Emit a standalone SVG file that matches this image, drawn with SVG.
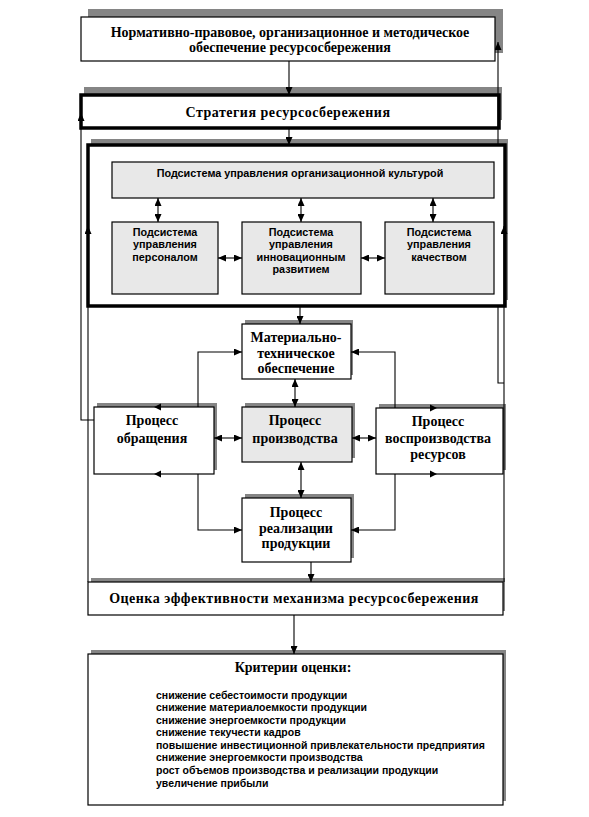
<svg xmlns="http://www.w3.org/2000/svg" width="589" height="817" viewBox="0 0 589 817">
<style>
.sh{fill:#858585;stroke:none}
.bx{fill:#fff;stroke:#000;stroke-width:1.2}
.bxt{fill:#fff;stroke:#000;stroke-width:3.5}
.gr{fill:#e8e8e8;stroke:#000;stroke-width:1.2}
.c{fill:none;stroke:#000;stroke-width:1.1}
.ts{font-family:"Liberation Serif","Times New Roman",serif;font-weight:bold;font-size:14px;fill:#000;text-anchor:middle}
.ta{font-family:"Liberation Sans",Arial,sans-serif;font-weight:bold;font-size:10.8px;fill:#000;text-anchor:middle}
.tl{font-family:"Liberation Sans",Arial,sans-serif;font-weight:bold;font-size:10.5px;fill:#000}
</style>
<defs>
<marker id="ah" markerUnits="userSpaceOnUse" markerWidth="8" markerHeight="7" refX="8" refY="3.5" orient="auto-start-reverse">
<path d="M0,0 L8,3.5 L0,7 z" fill="#000"/>
</marker>
</defs>
<g id="n-normative">
<rect class="sh" x="88" y="9" width="415" height="44"/>
<rect class="bx" x="81" y="17" width="414" height="44"/>
<text class="ts" x="290" y="37" font-size="14.3">Нормативно-правовое, организационное и методическое</text>
<text class="ts" x="290" y="52" font-size="14.3">обеспечение ресурсосбережения</text>
</g>
<g id="n-strategy">
<rect class="sh" x="84" y="87" width="418" height="33"/>
<rect class="bxt" x="81" y="95" width="418" height="33" stroke-width="3"/>
<text class="ts" x="288" y="117" letter-spacing="0.5">Стратегия ресурсосбережения</text>
</g>
<g id="n-subsystems">
<rect class="sh" x="91" y="139" width="417" height="161"/>
<rect class="bxt" x="88" y="145" width="417" height="161"/>
</g>
<g id="n-culture">
<rect class="gr" x="112" y="162" width="382" height="36"/>
<text class="ta" x="300" y="177">Подсистема управления организационной культурой</text>
</g>
<g id="n-personnel">
<rect class="gr" x="112" y="222" width="106" height="72"/>
<text class="ta" x="165" y="236">Подсистема</text>
<text class="ta" x="165" y="248">управления</text>
<text class="ta" x="165" y="261">персоналом</text>
</g>
<g id="n-innovation">
<rect class="gr" x="242" y="222" width="119" height="72"/>
<text class="ta" x="301" y="236">Подсистема</text>
<text class="ta" x="301" y="248">управления</text>
<text class="ta" x="301" y="261">инновационным</text>
<text class="ta" x="301" y="273">развитием</text>
</g>
<g id="n-quality">
<rect class="gr" x="385" y="222" width="109" height="72"/>
<text class="ta" x="439" y="236">Подсистема</text>
<text class="ta" x="439" y="248">управления</text>
<text class="ta" x="439" y="261">качеством</text>
</g>
<g id="n-material">
<rect class="sh" x="245" y="320" width="108" height="55"/>
<rect class="bx" x="242" y="324" width="109" height="55"/>
<text class="ts" x="296" y="342">Материально-</text>
<text class="ts" x="296" y="358">техническое</text>
<text class="ts" x="296" y="373">обеспечение</text>
</g>
<g id="n-circulation">
<rect class="sh" x="97" y="403" width="120" height="67"/>
<rect class="bx" x="94" y="407" width="120" height="67"/>
<text class="ts" x="152" y="425">Процесс</text>
<text class="ts" x="152" y="443">обращения</text>
</g>
<g id="n-production">
<rect class="sh" x="245" y="403" width="110" height="55"/>
<rect class="gr" x="242" y="407" width="110" height="55"/>
<text class="ts" x="295" y="425">Процесс</text>
<text class="ts" x="295" y="443">производства</text>
</g>
<g id="n-reproduction">
<rect class="sh" x="379" y="404" width="127" height="66"/>
<rect class="bx" x="376" y="408" width="127" height="66"/>
<text class="ts" x="438" y="426">Процесс</text>
<text class="ts" x="438" y="443">воспроизводства</text>
<text class="ts" x="438" y="459">ресурсов</text>
</g>
<g id="n-realization">
<rect class="sh" x="245" y="494" width="109" height="64"/>
<rect class="bx" x="242" y="498" width="109" height="64"/>
<text class="ts" x="296" y="517">Процесс</text>
<text class="ts" x="296" y="533">реализации</text>
<text class="ts" x="296" y="548">продукции</text>
</g>
<g id="n-evaluation">
<rect class="sh" x="91" y="578" width="414" height="33"/>
<rect class="bx" x="88" y="582" width="415" height="33"/>
<text class="ts" x="294" y="603" letter-spacing="0.5">Оценка эффективности механизма ресурсосбережения</text>
</g>
<g id="n-criteria">
<rect class="sh" x="91" y="650" width="415" height="151"/>
<rect class="bx" x="88" y="654" width="415" height="151"/>
<text class="ts" x="293" y="672">Критерии оценки:</text>
<text class="tl" x="156" y="699">снижение себестоимости продукции</text>
<text class="tl" x="156" y="711">снижение материалоемкости продукции</text>
<text class="tl" x="156" y="724">снижение энергоемкости продукции</text>
<text class="tl" x="156" y="736">снижение текучести кадров</text>
<text class="tl" x="156" y="749">повышение инвестиционной привлекательности предприятия</text>
<text class="tl" x="156" y="761">снижение энергоемкости производства</text>
<text class="tl" x="156" y="774">рост объемов производства и реализации продукции</text>
<text class="tl" x="156" y="787">увеличение прибыли</text>
</g>
<g id="connectors">
<line class="c" x1="289" y1="61" x2="289" y2="95" marker-end="url(#ah)"/>
<line class="c" x1="289" y1="128" x2="289" y2="145" marker-end="url(#ah)"/>
<polyline class="c" points="94,420 81,420 81,113" marker-end="url(#ah)"/>
<line class="c" x1="88" y1="582" x2="88" y2="226" marker-end="url(#ah)"/>
<line class="c" x1="504" y1="582" x2="504" y2="226" marker-end="url(#ah)"/>
<polyline class="c" points="504,383 498,383 498,306"/>
<line class="c" x1="498" y1="145" x2="498" y2="42" marker-end="url(#ah)"/>
<line class="c" x1="158" y1="198" x2="158" y2="222" marker-start="url(#ah)" marker-end="url(#ah)"/>
<line class="c" x1="301" y1="198" x2="301" y2="222" marker-start="url(#ah)" marker-end="url(#ah)"/>
<line class="c" x1="433" y1="198" x2="433" y2="222" marker-start="url(#ah)" marker-end="url(#ah)"/>
<line class="c" x1="218" y1="258" x2="242" y2="258" marker-start="url(#ah)" marker-end="url(#ah)"/>
<line class="c" x1="361" y1="258" x2="385" y2="258" marker-start="url(#ah)" marker-end="url(#ah)"/>
<line class="c" x1="300" y1="306" x2="300" y2="324" marker-end="url(#ah)"/>
<line class="c" x1="295" y1="379" x2="295" y2="407" marker-start="url(#ah)" marker-end="url(#ah)"/>
<line class="c" x1="301" y1="462" x2="301" y2="498" marker-start="url(#ah)" marker-end="url(#ah)"/>
<line class="c" x1="214" y1="438" x2="242" y2="438" marker-start="url(#ah)" marker-end="url(#ah)"/>
<line class="c" x1="352" y1="438" x2="376" y2="438" marker-start="url(#ah)" marker-end="url(#ah)"/>
<polyline class="c" points="198,407 198,352 242,352" marker-end="url(#ah)"/>
<polyline class="c" points="395,408 395,352 351,352" marker-end="url(#ah)"/>
<polyline class="c" points="198,474 198,530 242,530" marker-end="url(#ah)"/>
<polyline class="c" points="395,474 395,530 351,530" marker-end="url(#ah)"/>
<path d="M154,407 L161,403.5 L161,410.5 z M154,474 L161,470.5 L161,477.5 z M437,408 L430,404.5 L430,411.5 z M437,474 L430,470.5 L430,477.5 z" fill="#000"/>
<line class="c" x1="311" y1="562" x2="311" y2="582" marker-end="url(#ah)"/>
<line class="c" x1="294" y1="615" x2="294" y2="654" marker-end="url(#ah)"/>
</g>
</svg>
